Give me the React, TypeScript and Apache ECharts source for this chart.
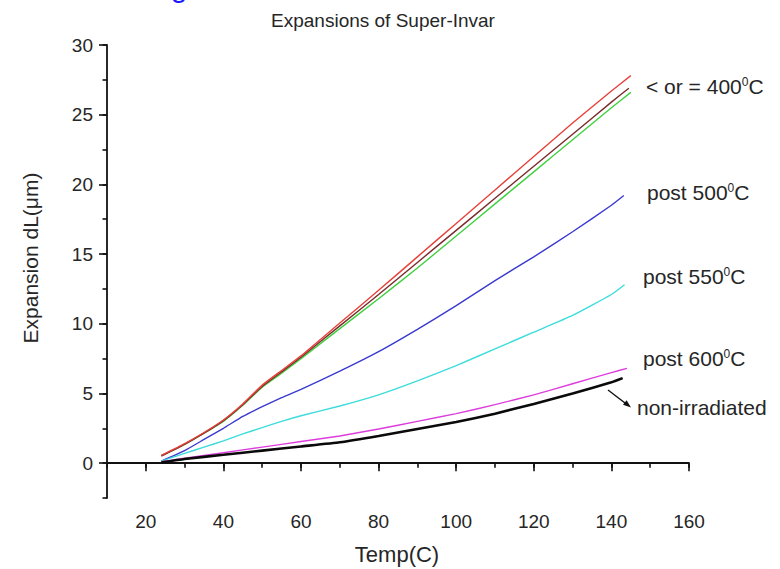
import React, { useEffect, useRef } from "react";
import * as echarts from "echarts";

const FONT = '"Liberation Sans", Arial, Helvetica, sans-serif';

const xTicks = [20, 40, 60, 80, 100, 120, 140, 160];
const yTicks = [0, 5, 10, 15, 20, 25, 30];

const tBase = [24, 30, 35, 40, 45, 50, 55, 60, 70, 80, 90, 100, 110, 120, 130, 140];

const tRed = [...tBase, 145];
const vRed = [0.55, 1.4, 2.2, 3.1, 4.25, 5.6, 6.65, 7.7, 10.05, 12.4, 14.8, 17.2, 19.6, 22.0, 24.4, 26.7, 27.8];

const tBrown = [...tBase, 144.5];
const vBrown = [0.5, 1.35, 2.15, 3.05, 4.2, 5.5, 6.55, 7.6, 9.85, 12.1, 14.4, 16.7, 19.0, 21.3, 23.6, 25.9, 26.9];

const tGreen = [...tBase, 145];
const vGreen = [0.55, 1.35, 2.15, 3.0, 4.15, 5.45, 6.45, 7.5, 9.65, 11.8, 14.0, 16.3, 18.6, 20.9, 23.2, 25.5, 26.6];

const tBlue = [...tBase, 143.2];
const vBlue = [0.15, 0.9, 1.7, 2.5, 3.35, 4.05, 4.7, 5.3, 6.6, 8.0, 9.6, 11.3, 13.1, 14.8, 16.6, 18.5, 19.2];

const tCyan = [...tBase, 143.4];
const vCyan = [0.15, 0.7, 1.15, 1.6, 2.1, 2.55, 3.0, 3.4, 4.1, 4.9, 5.9, 7.0, 8.2, 9.4, 10.6, 12.1, 12.8];

const tMagenta = [24, 30, 40, 50, 60, 70, 80, 90, 100, 110, 120, 130, 140, 144];
const vMagenta = [0.1, 0.35, 0.75, 1.15, 1.55, 1.95, 2.45, 3.0, 3.55, 4.2, 4.9, 5.7, 6.5, 6.8];

const tBlack = [24, 30, 40, 50, 60, 70, 80, 90, 100, 110, 120, 130, 140, 142.9];
const vBlack = [0.05, 0.3, 0.6, 0.9, 1.2, 1.5, 1.95, 2.45, 2.95, 3.55, 4.25, 5.0, 5.8, 6.1];

const seriesNames = ["400 a", "400 b", "400 c", "post 500", "post 550", "post 600", "non-irradiated"];

const annotations = [
  { text: "< or = 400{s|0}C", x: 646, y: 86 },
  { text: "post 500{s|0}C", x: 647, y: 192 },
  { text: "post 550{s|0}C", x: 643, y: 276 },
  { text: "post 600{s|0}C", x: 643, y: 358 },
  { text: "non-irradiated", x: 637, y: 407 },
];

const pairs = (t: number[], v: number[]) => t.map((x, i) => [x, v[i]]);

export default function App() {
  const ref = useRef<HTMLDivElement>(null);
  useEffect(() => {
    if (!ref.current) return;
    const chart = echarts.init(ref.current, null, { renderer: "svg" });
    const axisColor = "#111";
    const textColor = "#262626";
    const mkLine = (name: string, data: number[][], color: string, width: number) => ({
      name,
      type: "line",
      data,
      xAxisIndex: 0,
      yAxisIndex: 0,
      showSymbol: false,
      symbol: "none",
      smooth: 0.15,
      lineStyle: { color, width },
      emphasis: { disabled: true },
    });
    chart.setOption({
      animation: false,
      textStyle: { fontFamily: FONT },
      grid: { left: 107, right: 91, top: 45, bottom: 71, containLabel: false },
      xAxis: [
        {
          type: "value", min: 10, max: 160, interval: 10, position: "bottom",
          axisLine: { show: true, lineStyle: { color: axisColor, width: 1.8 } },
          axisTick: { show: true, inside: false, length: 4.5, lineStyle: { color: axisColor, width: 1.6 } },
          axisLabel: { show: false },
          splitLine: { show: false },
        },
        {
          type: "value", min: 10, max: 160, position: "bottom",
          axisLine: { show: false },
          axisTick: { show: true, inside: false, length: 8, customValues: xTicks, lineStyle: { color: axisColor, width: 1.6 } },
          axisLabel: { show: true, customValues: xTicks, fontSize: 19, color: textColor, margin: 14, fontFamily: FONT },
          splitLine: { show: false },
        },
      ],
      yAxis: [
        {
          type: "value", min: -2.5, max: 30, interval: 2.5, position: "left",
          axisLine: { show: true, lineStyle: { color: axisColor, width: 1.8 } },
          axisTick: { show: true, inside: false, length: 4.5, lineStyle: { color: axisColor, width: 1.6 } },
          axisLabel: { show: false },
          splitLine: { show: false },
        },
        {
          type: "value", min: -2.5, max: 30, position: "left",
          axisLine: { show: false },
          axisTick: { show: true, inside: false, length: 8, customValues: yTicks, lineStyle: { color: axisColor, width: 1.6 } },
          axisLabel: { show: true, customValues: yTicks, fontSize: 19, color: textColor, margin: 14, fontFamily: FONT },
          splitLine: { show: false },
        },
      ],
      series: [
        mkLine(seriesNames[2], pairs(tGreen, vGreen), "#3fd03f", 1.4),
        mkLine(seriesNames[1], pairs(tBrown, vBrown), "#7a2b2b", 1.4),
        mkLine(seriesNames[0], pairs(tRed, vRed), "#e8403a", 1.4),
        mkLine(seriesNames[3], pairs(tBlue, vBlue), "#3a3ad0", 1.4),
        mkLine(seriesNames[4], pairs(tCyan, vCyan), "#3ddcdc", 1.4),
        mkLine(seriesNames[5], pairs(tMagenta, vMagenta), "#dd3ddd", 1.4),
        mkLine(seriesNames[6], pairs(tBlack, vBlack), "#0a0a0a", 2.6),
      ],
      graphic: [
        {
          type: "text", x: 179, y: 1.5,
          style: { text: "g", fontSize: 30, fill: "#1a1aff", align: "center", verticalAlign: "bottom", fontFamily: FONT },
        },
        {
          type: "text", x: 383, y: 20,
          style: { text: "Expansions of Super-Invar", fontSize: 19, fill: textColor, align: "center", verticalAlign: "middle", fontFamily: FONT },
        },
        {
          type: "text", x: 397, y: 554,
          style: { text: "Temp(C)", fontSize: 22, fill: textColor, align: "center", verticalAlign: "middle", fontFamily: FONT },
        },
        {
          type: "text", x: 30, y: 258, rotation: Math.PI / 2,
          style: { text: "Expansion dL(\u03bcm)", fontSize: 21, fill: textColor, align: "center", verticalAlign: "middle", fontFamily: FONT },
        },
        ...annotations.map((a) => ({
          type: "text", x: a.x, y: a.y,
          style: {
            text: a.text, fontSize: 21, fill: textColor, align: "left", verticalAlign: "middle", fontFamily: FONT,
            rich: { s: { fontSize: 12, verticalAlign: "top", fill: textColor, fontFamily: FONT } },
          },
        })),
        {
          type: "line",
          shape: { x1: 608, y1: 390, x2: 627, y2: 404.5 },
          style: { stroke: "#111", lineWidth: 1.4 },
        },
        {
          type: "polygon",
          shape: { points: [[631, 407.5], [623, 404.8], [626.6, 400.2]] },
          style: { fill: "#111" },
        },
      ],
    });
    return () => chart.dispose();
  }, []);
  return (
    <div
      ref={ref}
      style={{ position: "absolute", left: 0, top: 0, width: 780, height: 569, background: "#fff" }}
    />
  );
}
